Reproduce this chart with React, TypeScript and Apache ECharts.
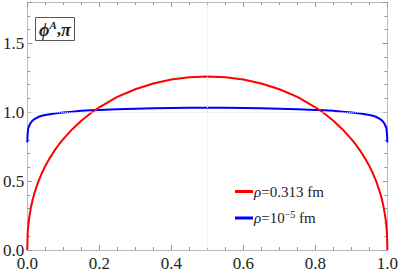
import React, { useEffect, useRef } from "react";
import * as echarts from "echarts";

const xValues = [0, 0.001, 0.0025, 0.005, 0.01, 0.015, 0.02, 0.03, 0.04, 0.05, 0.0625, 0.075, 0.0875, 0.1, 0.125, 0.15, 0.175, 0.2, 0.25, 0.3, 0.35, 0.4, 0.45, 0.5,
  0.55, 0.6, 0.65, 0.7, 0.75, 0.8, 0.825, 0.85, 0.875, 0.9, 0.9125, 0.925, 0.9375, 0.95, 0.96, 0.97, 0.98, 0.985, 0.99, 0.995, 0.9975, 0.999, 1];
const redValues = [0, 0.112, 0.167, 0.227, 0.306, 0.365, 0.413, 0.491, 0.555, 0.609, 0.667, 0.719, 0.764, 0.805, 0.877, 0.938, 0.991, 1.036, 1.111, 1.167, 1.209, 1.238, 1.254, 1.26,
  1.254, 1.238, 1.209, 1.167, 1.111, 1.036, 0.991, 0.938, 0.877, 0.805, 0.764, 0.719, 0.667, 0.609, 0.555, 0.491, 0.413, 0.365, 0.306, 0.227, 0.167, 0.112, 0];
const blueValues = [0.78, 0.84, 0.88, 0.9, 0.925, 0.94, 0.95, 0.965, 0.974, 0.98, 0.985, 0.99, 0.994, 0.998, 1.004, 1.01, 1.014, 1.017, 1.022, 1.026, 1.029, 1.031, 1.032, 1.032,
  1.032, 1.031, 1.029, 1.026, 1.022, 1.017, 1.014, 1.01, 1.004, 0.998, 0.994, 0.99, 0.985, 0.98, 0.974, 0.965, 0.95, 0.94, 0.925, 0.9, 0.88, 0.84, 0.78];
const seriesNames = ["ρ=0.313 fm", "ρ=10^-5 fm"];
const seriesColors = ["#ff0000", "#0000ff"];

const FONT = "Liberation Serif";

export default function App() {
  const ref = useRef<HTMLDivElement>(null);
  useEffect(() => {
    if (!ref.current) return;
    const chart = echarts.init(ref.current, undefined, { renderer: "svg" });
    const frameColor = "#bbbbbb";
    const tickColor = "#999999";
    const baseX = {
      type: "value",
      min: 0,
      max: 1,
      interval: 0.2,
      axisLine: { show: true, onZero: false, lineStyle: { color: frameColor, width: 1 } },
      axisTick: { show: true, inside: true, length: 5, lineStyle: { color: tickColor } },
      minorTick: { show: true, splitNumber: 4, length: 3, lineStyle: { color: tickColor } },
      splitLine: { show: false },
    };
    const baseY = {
      type: "value",
      min: 0,
      max: 1.8,
      interval: 0.5,
      axisLine: { show: true, onZero: false, lineStyle: { color: frameColor, width: 1 } },
      axisTick: { show: true, inside: true, length: 5, lineStyle: { color: tickColor } },
      minorTick: { show: true, splitNumber: 5, length: 3, lineStyle: { color: tickColor } },
      splitLine: { show: false },
    };
    const mkData = (vals: number[]) => xValues.map((x, i) => [x, vals[i]]);
    chart.setOption({
      animation: false,
      backgroundColor: "#ffffff",
      grid: { left: 25, right: 12, top: 2, bottom: 23 },
      title: {
        text: "{i|ϕ}{sup|A}{n|,}{i|π}",
        left: 35,
        top: 17,
        padding: [2, 4, 2, 4],
        borderColor: "#555555",
        borderWidth: 1,
        textStyle: {
          rich: {
            i: { fontFamily: FONT, fontStyle: "italic", fontWeight: "bold", fontSize: 18, color: "#222" },
            sup: { fontFamily: FONT, fontStyle: "italic", fontSize: 11, color: "#222", verticalAlign: "top", padding: [0, 0, 10, 0] },
            n: { fontFamily: FONT, fontSize: 17, color: "#222" },
          },
        },
      },
      legend: {
        orient: "vertical",
        left: 230,
        top: 179,
        itemWidth: 18,
        itemHeight: 3,
        itemGap: 10,
        icon: "rect",
        data: seriesNames,
        formatter: (name: string) =>
          name.includes("^") ? "{r|ρ}{t|=10}{s|−5}{t| fm}" : "{r|ρ}{t|=0.313 fm}",
        textStyle: {
          padding: [0, 0, 0, -4],
          rich: {
            r: { fontFamily: FONT, fontStyle: "italic", fontSize: 15, color: "#222" },
            t: { fontFamily: FONT, fontSize: 15, color: "#222" },
            s: { fontFamily: FONT, fontSize: 10, color: "#222", verticalAlign: "top", padding: [0, 0, 8, 0] },
          },
        },
      },
      xAxis: [
        {
          ...baseX,
          position: "bottom",
          axisLabel: { fontFamily: FONT, fontSize: 17, color: "#222", margin: 5, formatter: (v: number) => v.toFixed(1) },
        },
        { ...baseX, position: "top", axisLabel: { show: false } },
      ],
      yAxis: [
        {
          ...baseY,
          position: "left",
          axisLabel: {
            fontFamily: FONT,
            fontSize: 17,
            color: "#222",
            margin: 3,
            formatter: (v: number) => (Math.abs(v * 2 - Math.round(v * 2)) < 1e-6 ? v.toFixed(1) : ""),
          },
        },
        { ...baseY, position: "right", axisLabel: { show: false } },
      ],
      series: [
        {
          name: seriesNames[0],
          type: "line",
          data: mkData(redValues),
          showSymbol: false,
          smooth: false,
          lineStyle: { color: seriesColors[0], width: 2 },
          itemStyle: { color: seriesColors[0] },
          z: 3,
          markLine: {
            silent: true,
            symbol: "none",
            label: { show: false },
            lineStyle: { color: "#e4e4e4", type: "dotted", width: 1 },
            data: [{ xAxis: 0.5 }, { yAxis: 1.0 }],
          },
        },
        {
          name: seriesNames[1],
          type: "line",
          data: mkData(blueValues),
          showSymbol: false,
          smooth: false,
          lineStyle: { color: seriesColors[1], width: 2 },
          itemStyle: { color: seriesColors[1] },
          z: 2,
        },
      ],
    });
    return () => chart.dispose();
  }, []);
  return <div ref={ref} style={{ position: "fixed", left: 0, top: 0, width: 401, height: 273 }} />;
}
